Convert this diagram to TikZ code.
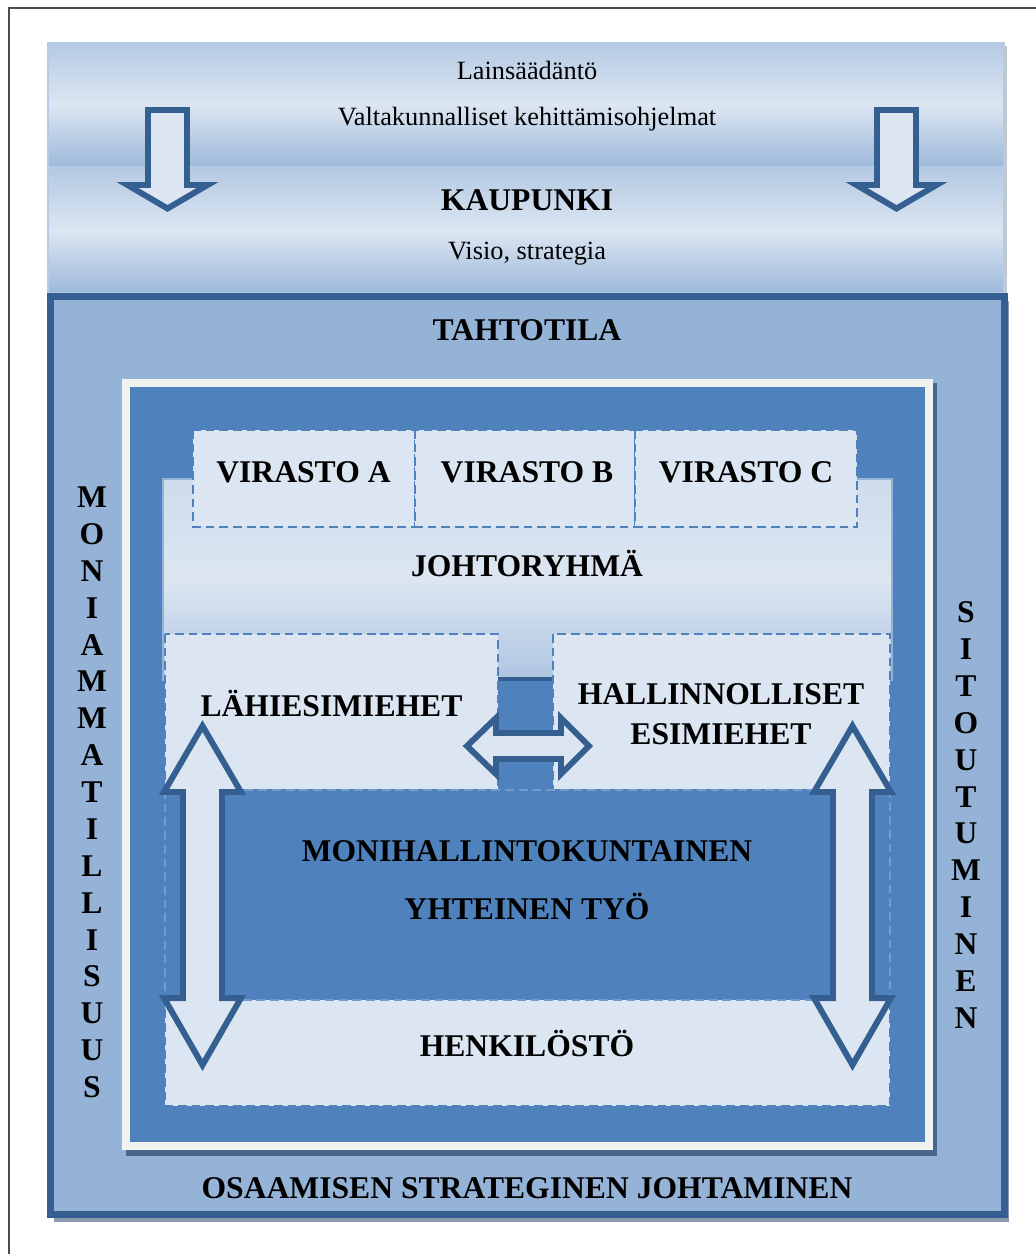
\documentclass[tikz,border=0pt]{standalone}
\usepackage{fontspec}
\setmainfont{Liberation Serif}
\usepackage{tikz}
\definecolor{lightblue}{HTML}{DCE6F2}
\definecolor{midblue}{HTML}{95B3D7}
\definecolor{boxblue}{HTML}{4F81BD}
\definecolor{darkblue}{HTML}{365F91}
\definecolor{framewhite}{HTML}{F2F2F2}
\begin{document}
\begin{tikzpicture}[x=0.02cm,y=-0.02cm]
\tikzstyle{every node}=[font=\bfseries\fontsize{18}{21}\selectfont,text height=12pt,text depth=0pt,inner sep=0pt]
\tikzstyle{plain}=[font=\fontsize{15}{18}\selectfont,text height=10pt]
\tikzstyle{band}=[draw=midblue!70!white,line width=0.6pt,shading=axis,top color=midblue!55!lightblue,bottom color=midblue!90!lightblue,middle color=lightblue]
\tikzstyle{panel}=[draw=midblue,line width=0.6pt,shading=axis,top color=lightblue!80!midblue,bottom color=midblue!65!lightblue,middle color=lightblue]
\tikzstyle{dashbox}=[draw=boxblue,fill=lightblue,line width=1.1pt,dash pattern=on 5pt off 2.8pt]
\tikzstyle{blockarrow}=[draw=darkblue,fill=lightblue,line width=3.4pt,line join=miter]
\useasboundingbox (0,0) rectangle (1035,1254);
\fill[white] (0,0) rectangle (1035,1254);
\draw[gray!60!black,line width=0.6pt] (9,8) rectangle (1050,1280);
% top bands
\fill[gray!45] (51,46) rectangle (1007,295);
\shade[band] (48,43) rectangle (1004,167);
\shade[band] (48,169) rectangle (1004,293);
% main box
\fill[gray!50!midblue] (54,301) rectangle (1009,1222);
\draw[darkblue,fill=midblue,line width=4pt] (50.5,296.5) rectangle (1004.5,1214);
\fill[darkblue!75!gray] (126,383) rectangle (937,1156);
\fill[framewhite] (122,379) rectangle (933,1150);
\fill[boxblue] (130,387) rectangle (925,1142);
\shade[panel] (163,479) rectangle (892,680);
\draw[dashbox] (193,430) rectangle (415,527);
\draw[dashbox] (415,430) rectangle (635,527);
\draw[dashbox] (635,430) rectangle (857,527);
\fill[boxblue] (498,679) rectangle (553,792);
\draw[darkblue,line width=2pt] (498,679) -- (553,679);
\draw[dashbox] (165,634) rectangle (498,790);
\draw[dashbox] (553,634) rectangle (890,790);
\draw[dashbox] (165,790) rectangle (890,1106);
\draw[dashbox,fill=boxblue,draw=boxblue!75!lightblue] (165,790) rectangle (890,1000);
% arrows
\draw[blockarrow] (148,110) -- (187,110) -- (187,185) -- (207.5,185) -- (167.5,208.5) -- (127.5,185) -- (148,185) -- cycle;
\draw[blockarrow] (877,110) -- (916,110) -- (916,185) -- (936.5,185) -- (896.5,208.5) -- (856.5,185) -- (877,185) -- cycle;
\draw[blockarrow] (202.5,726) -- (241,792) -- (222,792) -- (222,998) -- (241,998) -- (202.5,1065) -- (164,998) -- (183,998) -- (183,792) -- (164,792) -- cycle;
\draw[blockarrow] (852.5,726) -- (891,792) -- (872,792) -- (872,998) -- (891,998) -- (852.5,1065) -- (814,998) -- (833,998) -- (833,792) -- (814,792) -- cycle;
\draw[blockarrow] (467,746) -- (496,718) -- (496,733) -- (561,733) -- (561,718) -- (589,746) -- (561,774) -- (561,759) -- (496,759) -- (496,774) -- cycle;
% texts
\node[plain] (law) at (527,71) {Lainsäädäntö};
\node[plain] (prog) at (527,116.5) {Valtakunnalliset kehittämisohjelmat};
\node (city) at (527,199.5) {KAUPUNKI};
\node[plain] (vision) at (527,251) {Visio, strategia};
\node (goal) at (527,330) {TAHTOTILA};
\node (va) at (303.5,471.5) {VIRASTO A};
\node (vb) at (527,471.5) {VIRASTO B};
\node (vc) at (746,471.5) {VIRASTO C};
\node (board) at (527,566) {JOHTORYHMÄ};
\node (near) at (331.5,705.5) {LÄHIESIMIEHET};
\node (admin) at (721,694) {HALLINNOLLISET};
\node (admin2) at (721,733.5) {ESIMIEHET};
\node (multi) at (527,850.5) {MONIHALLINTOKUNTAINEN};
\node (multi2) at (527,908.5) {YHTEINEN TYÖ};
\node (staff) at (527,1045.5) {HENKILÖSTÖ};
\node (skill) at (527,1188) {OSAAMISEN STRATEGINEN JOHTAMINEN};
\foreach \l [count=\i from 0] in {M,O,N,I,A,M,M,A,T,I,L,L,I,S,U,U,S}
  \node (left\i) at (92,497+36.875*\i) {\l};
\foreach \l [count=\i from 0] in {S,I,T,O,U,T,U,M,I,N,E,N}
  \node (right\i) at (966,612+36.9*\i) {\l};
\end{tikzpicture}
\end{document}
